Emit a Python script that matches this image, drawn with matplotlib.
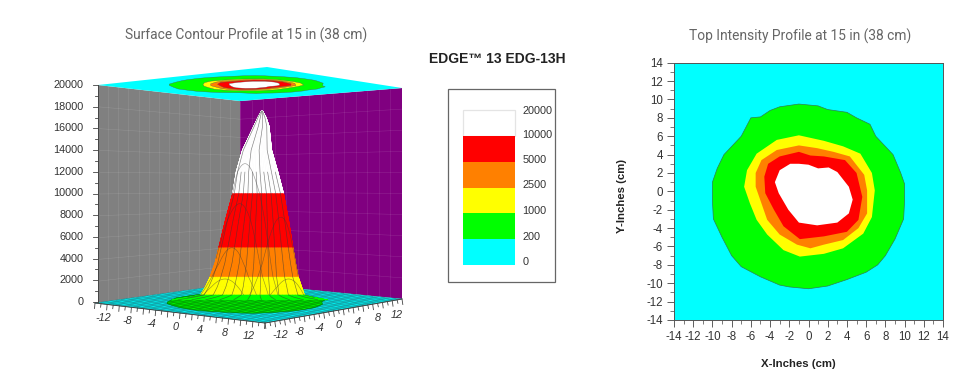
import numpy as np
import matplotlib
matplotlib.use("Agg")
import matplotlib.pyplot as plt
from matplotlib.collections import PolyCollection, LineCollection
from matplotlib.patches import Polygon, Rectangle

plt.rcParams['font.family'] = ['Liberation Sans', 'DejaVu Sans']
plt.rcParams['axes.unicode_minus'] = False

# ---------- data ----------
legend_labels = ["20000", "10000", "5000", "2500", "1000", "200", "0"]
legend_colors = ["#ffffff", "#ff0000", "#ff8000", "#ffff00", "#00ff00", "#00ffff"]
ztick_values = list(range(0, 20001, 2000))
plane_ticks = list(range(-12, 13, 4))
top_ticks = list(range(-14, 15, 2))

contour_200_x = [-6,-5,-4,-3,-1,1,2,4,5,6.4,7,8.8,9.6,10,10,9.9,9,8,7.2,6,4,2,0,-2,-3,-5,-7,-8,-9,-9.9,-10,-10,-9.5,-8.8,-7]
contour_200_y = [8.0,8.1,8.8,9.2,9.5,9.3,8.9,8.6,8.0,7.3,6,4,2,0.8,-1,-3,-5.2,-7,-8,-8.8,-9.6,-10.3,-10.6,-10.4,-10.2,-9.3,-8.2,-7,-5,-3,-1,1,2.5,4,6]
contour_1000_x = [-1,-3.3,-5.4,-6.4,-6.7,-6.1,-5.4,-4.3,-2.6,-0.9,1.6,3.6,5.7,6.6,6.9,6.6,5.4,3.6,1.6]
contour_1000_y = [6.1,5.6,4.1,2.3,0.5,-1.3,-3.1,-4.7,-6.4,-7.1,-6.8,-6.2,-4.6,-2.8,0.1,2,4.1,4.9,5.5]
contour_2500_x = [-1,-3.3,-4.9,-5.5,-5.5,-4.9,-4.3,-3,-1.2,0.2,1.6,3.6,5.2,6.1,6.1,5.8,4.3,2.6,0.9]
contour_2500_y = [5.0,4.5,3.4,2,0.5,-1.3,-3.1,-4.7,-5.8,-6.2,-5.8,-5.3,-4,-2.4,0.1,1.8,3.8,4.3,4.7]
contour_5000_x = [-1,-3,-4.2,-4.6,-4.5,-3.6,-2.6,-0.9,1.6,4,5.2,5.6,5,3.8,1.6,0.2]
contour_5000_y = [4.3,3.8,3,1.6,-0.2,-2,-3.8,-5.2,-4.9,-4.4,-3.1,-0.6,2,3.4,3.8,3.9]
contour_10000_x = [-1,-1.9,-3,-3.5,-3.1,-2.1,-1,0.9,3,4.2,4.6,4.2,3,2.1,1,0]
contour_10000_y = [3.0,3,2.3,1,-0.2,-2,-3.4,-3.7,-3.4,-2.4,-0.9,0.5,2.1,2.6,2.5,2.9]
contour_x = [contour_200_x, contour_1000_x, contour_2500_x, contour_5000_x, contour_10000_x]
contour_y = [contour_200_y, contour_1000_y, contour_2500_y, contour_5000_y, contour_10000_y]
contour_colors = ["#00ff00", "#ffff00", "#ff8000", "#ff0000", "#ffffff"]

# 3D surface profile: height, radius, centre drift, colour of band above that ring
ring_z  = [200, 450, 650, 1400, 2300, 3600, 5000, 7500, 10000, 12000, 14000, 16200, 17000, 17600]
ring_r  = [10.0, 7.9, 6.7, 6.2, 5.7, 5.2, 4.8, 4.1, 3.3, 2.7, 1.9, 1.0, 0.55, 0.1]
ring_dx = [0.0, 0.1, 0.2, 0.3, 0.35, 0.45, 0.5, 0.6, 0.7, 0.6, 0.6, 1.0, 1.05, 1.05]
band_color = ["#00ff00", "#00ff00", "#ffff00", "#ffff00", "#ff8000", "#ff8000",
              "#ff0000", "#ff0000", "#ffffff", "#ffffff", "#ffffff", "#ffffff", "#ffffff"]
arch_y_offsets = [2.4, 3.6, 4.8, 5.8]
arch_x_offsets = [4.0, 5.8]
spoke_positions = [-0.92, -0.74, -0.56, -0.38, -0.2, -0.02, 0.16, 0.34, 0.52, 0.7, 0.88]

# ---------- layout ----------
W, H = 973, 380
fig = plt.figure(figsize=(W / 100, H / 100), dpi=100)
bg = fig.add_axes([0, 0, 1, 1])
bg.set_xlim(0, W); bg.set_ylim(H, 0); bg.axis("off")

floor_c = np.array([[95, 303], [240, 283], [402, 299], [265, 323]], float)  # (-14,-14),(-14,14),(14,14),(14,-14)
top_c = np.array([[98, 85], [240, 101], [402, 88], [267, 67]], float)
z0_px, z_top_px = 302.0, 85.0

def bil(c, x, y):
    u = (np.asarray(x, float) + 14) / 28
    v = (np.asarray(y, float) + 14) / 28
    px = (1-u)*(1-v)*c[0,0] + (1-u)*v*c[1,0] + u*v*c[2,0] + u*(1-v)*c[3,0]
    py = (1-u)*(1-v)*c[0,1] + (1-u)*v*c[1,1] + u*v*c[2,1] + u*(1-v)*c[3,1]
    return px, py

def zpx(z):
    return z0_px - np.asarray(z, float) * (z0_px - z_top_px) / 20000

def surf(x, y, z):
    """project a surface point; heights are drawn without floor tilt, as the reference does"""
    px, _ = bil(floor_c, x, y)
    return px, zpx(z)

# walls
gw = np.array([[98, 303], [240, 283], [240, 101], [98, 85]], float)
pw = np.array([[240, 283], [402, 299], [402, 88], [240, 101]], float)
bg.add_patch(Polygon(gw, fc="#808080", ec="none", zorder=1))
bg.add_patch(Polygon(pw, fc="#800080", ec="none", zorder=1))
segs = []
for w in (gw, pw):
    for t in np.linspace(0, 1, 15):
        segs.append([w[0] + t*(w[1]-w[0]), w[3] + t*(w[2]-w[3])])
    for t in np.linspace(0, 1, 11):
        segs.append([w[0] + t*(w[3]-w[0]), w[1] + t*(w[2]-w[1])])
bg.add_collection(LineCollection(segs, colors="white", linewidths=0.4, alpha=0.14, zorder=2))

# top plate
bg.add_patch(Polygon(top_c, fc="#00ffff", ec="none", zorder=3))
for cx, cy, col in zip(contour_x, contour_y, contour_colors):
    px, py = bil(top_c, cx, cy)
    bg.add_patch(Polygon(np.c_[px, py], fc=col, ec="#555555", lw=0.25, zorder=4))

# floor
bg.add_patch(Polygon(floor_c, fc="#00ffff", ec="none", zorder=3))
grid = np.arange(-14, 15, 1.0)
seg_f = []
for g in grid:
    seg_f.append(np.c_[bil(floor_c, [g, g], [-14, 14])])
    seg_f.append(np.c_[bil(floor_c, [-14, 14], [g, g])])
bg.add_collection(LineCollection(seg_f, colors="#158a8f", linewidths=0.35, zorder=4))
px, py = bil(floor_c, contour_x[0], contour_y[0])
green = Polygon(np.c_[px, py], fc="#00ff00", ec="#006600", lw=0.35, zorder=5)
bg.add_patch(green)
lc = LineCollection(seg_f, colors="#008000", linewidths=0.3, zorder=6)
bg.add_collection(lc)
lc.set_clip_path(green)

# surface
nth = 72
th = np.linspace(0, 2*np.pi, nth + 1)
rz, rr, rd = map(np.array, (ring_z, ring_r, ring_dx))
quads, cols, depth = [], [], []
for i in range(len(rz) - 1):
    for j in range(nth):
        xs = [rd[i] + rr[i]*np.cos(th[j]), rd[i] + rr[i]*np.cos(th[j+1]),
              rd[i+1] + rr[i+1]*np.cos(th[j+1]), rd[i+1] + rr[i+1]*np.cos(th[j])]
        ys = [rd[i] + rr[i]*np.sin(th[j]), rd[i] + rr[i]*np.sin(th[j+1]),
              rd[i+1] + rr[i+1]*np.sin(th[j+1]), rd[i+1] + rr[i+1]*np.sin(th[j])]
        zs = [rz[i], rz[i], rz[i+1], rz[i+1]]
        p = surf(xs, ys, zs)
        quads.append(np.c_[p[0], p[1]])
        cols.append(band_color[i])
        depth.append(np.mean(xs) - np.mean(ys))
order = np.argsort(depth)
bg.add_collection(PolyCollection([quads[k] for k in order], facecolors=[cols[k] for k in order],
                                 edgecolors=[cols[k] for k in order], linewidths=0.3, zorder=7))

# mesh spokes evenly spaced across the silhouette; every other one stops below the narrow tip
spoke_segs = []
for n, u in enumerate(spoke_positions):
    a = np.deg2rad(39) - np.arccos(u)
    keep = len(rz) if n % 3 == 0 else len(rz) - 4
    p = surf(rd[:keep] + rr[:keep]*np.cos(a), rd[:keep] + rr[:keep]*np.sin(a), rz[:keep])
    spoke_segs.append(np.c_[p[0], p[1]])
bg.add_collection(LineCollection(spoke_segs, colors="#3a3a3a", linewidths=0.45, alpha=0.65, zorder=8))

# mesh arches
def profile(r):
    return np.interp(r, rr[::-1], rz[::-1])
arch_segs = []
for c in arch_y_offsets:
    t = np.linspace(-c, np.sqrt(6.7**2 - c**2), 80)
    r = np.hypot(t, c); z = profile(r)
    d = np.interp(z, rz, rd)
    p = surf(t + d, -c + d, z)
    arch_segs.append(np.c_[p[0], p[1]])
for c in arch_x_offsets:
    t = np.linspace(-np.sqrt(6.7**2 - c**2), c, 80)
    r = np.hypot(t, c); z = profile(r)
    d = np.interp(z, rz, rd)
    p = surf(c + d, t + d, z)
    arch_segs.append(np.c_[p[0], p[1]])
bg.add_collection(LineCollection(arch_segs, colors="#3a3a3a", linewidths=0.45, alpha=0.5, zorder=8))

# z axis
txt = "#333333"
bg.plot([97.5, 97.5], [z0_px, z_top_px], color="#444444", lw=0.7, zorder=9)
for z in range(0, 20001, 1000):
    L = 5 if z % 2000 == 0 else 3
    bg.plot([97.5 - L, 97.5], [zpx(z)]*2, color="#444444", lw=0.6, zorder=9)
for z in ztick_values:
    bg.text(83.5, zpx(z), str(z), ha="right", va="center", fontsize=7.8, color=txt)

# floor axes
for v in range(-14, 15):
    L = 5.5 if v % 2 == 0 else 3.5
    a = bil(floor_c, v, -14); bg.plot([a[0], a[0] - .5], [a[1], a[1] + L], color="#444444", lw=0.6, zorder=9)
    a = bil(floor_c, 14, v);  bg.plot([a[0], a[0] + .8], [a[1], a[1] + L], color="#444444", lw=0.6, zorder=9)
fa = bil(floor_c, [-14, 14], [-14, -14]); bg.plot(fa[0], fa[1], color="#444444", lw=0.7, zorder=9)
fa = bil(floor_c, [14, 14], [-14, 14]); bg.plot(fa[0], fa[1], color="#444444", lw=0.7, zorder=9)
for v in plane_ticks:
    a = bil(floor_c, v, -14)
    bg.text(a[0] - 4, a[1] + 14, str(v), ha="center", va="center", fontsize=7.8, style="italic", color=txt)
    a = bil(floor_c, 14, v)
    bg.text(a[0] + 5, a[1] + 14, str(v), ha="center", va="center", fontsize=7.8, style="italic", color=txt)

# titles
title_col = "#666666"
bg.text(246.5, 35, "Surface Contour Profile at 15 in (38 cm)", ha="center", va="center", fontsize=9.9, color=title_col, family="Roboto")
bg.text(800.5, 36, "Top Intensity Profile at 15 in (38 cm)", ha="center", va="center", fontsize=9.9, color=title_col, family="Roboto")
bg.text(497, 59, "EDGE™ 13 EDG-13H", ha="center", va="center", fontsize=10, fontweight="bold", color="#222222")

# legend
bg.add_patch(Rectangle((448, 89), 107, 193, fc="white", ec="#666666", lw=0.9))
edges = [110, 136, 162, 188, 213, 239, 265]
for i, col in enumerate(legend_colors):
    bg.add_patch(Rectangle((463, edges[i]), 52, edges[i+1] - edges[i], fc=col,
                           ec="#e4e4e4" if i == 0 else "none", lw=0.9))
for lab, y in zip(legend_labels, [111, 135.5, 160, 185, 211, 237, 262]):
    bg.text(522.5, y, lab, ha="left", va="center", fontsize=7.8, color=txt)

# right panel
x0, x1, y0, y1 = 674, 943, 62.7, 320
ax = fig.add_axes([x0 / W, 1 - y1 / H, (x1 - x0) / W, (y1 - y0) / H])
ax.set_xlim(-14, 14); ax.set_ylim(-14, 14)
ax.set_facecolor("#00ffff")
for cx, cy, col in zip(contour_x, contour_y, contour_colors):
    ax.fill(cx, cy, fc=col, ec="#2f7f4f" if col == "#00ff00" else "none", lw=0.5)
ax.set_xticks(top_ticks); ax.set_yticks(top_ticks)
ax.set_xticks(range(-14, 15), minor=True); ax.set_yticks(range(-14, 15), minor=True)
ax.tick_params(which="major", length=5, width=0.6, color="#444444", labelsize=8.3, labelcolor=txt, pad=3)
ax.tick_params(which="minor", length=3, width=0.5, color="#444444")
for s in ax.spines.values():
    s.set_linewidth(0.7); s.set_color("#555555")
bg.text(798, 364, "X-Inches (cm)", ha="center", va="center", fontsize=8.2, fontweight="bold", color="#222222")
bg.text(622, 196, "Y-Inches (cm)", ha="center", va="center", rotation=90, fontsize=8.2, fontweight="bold", color="#222222")

fig.savefig("out.png", dpi=100)
